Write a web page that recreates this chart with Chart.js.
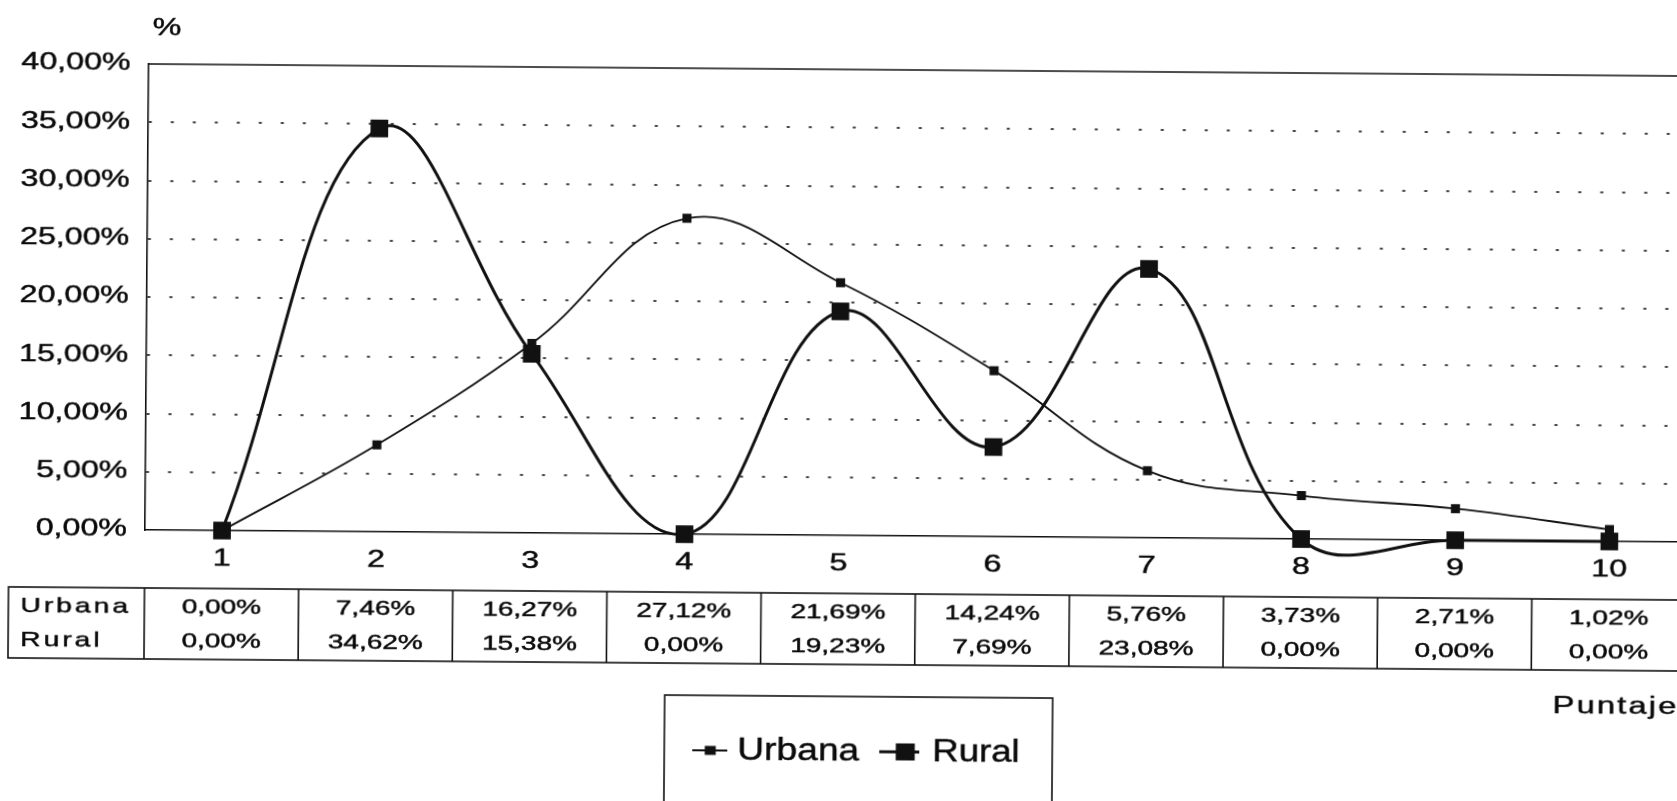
<!DOCTYPE html>
<html><head><meta charset="utf-8">
<script src="https://cdn.jsdelivr.net/npm/chart.js@4.4.0/dist/chart.umd.min.js"></script>
<style>
html,body{margin:0;padding:0;background:#fff;width:1677px;height:801px;overflow:hidden;}
#wrap{position:absolute;left:0;top:0;width:1700px;height:801px;transform:rotate(0.45deg);transform-origin:150px 400px;}
</style></head><body>
<div id="wrap"><canvas id="c" width="1700" height="801"></canvas></div>
<script>
const categories = ['1','2','3','4','5','6','7','8','9','10'];
const urbana = [0.00, 7.46, 16.27, 27.12, 21.69, 14.24, 5.76, 3.73, 2.71, 1.02];
const rural  = [0.00, 34.62, 15.38, 0.00, 19.23, 7.69, 23.08, 0.00, 0.00, 0.00];
const seriesNames = ['Urbana', 'Rural'];
const yTickValues = [0, 5, 10, 15, 20, 25, 30, 35, 40];
const yAxisTitle = '%';
const xAxisTitle = 'Puntaje';

function fmt(v) { return v.toFixed(2).replace('.', ',') + '%'; }

const FONT = '"Liberation Sans", Arial, sans-serif';
function wideText(ctx, text, x, y, align, size, sx, ls) {
  ctx.save();
  ctx.font = size + 'px ' + FONT;
  ctx.letterSpacing = (ls || 0) + 'px';
  ctx.textBaseline = 'middle';
  ctx.textAlign = 'left';
  ctx.fillStyle = '#0a0a0a';
  ctx.strokeStyle = '#0a0a0a';
  ctx.lineWidth = 0.45;
  const w = ctx.measureText(text).width * sx - (ls || 0) * sx;
  const left = align === 'center' ? x - w / 2 : (align === 'right' ? x - w : x);
  ctx.translate(left, y);
  ctx.scale(sx, 1);
  ctx.fillText(text, 0, 0);
  ctx.strokeText(text, 0, 0);
  ctx.restore();
}

const decor = {
  id: 'decor',
  afterDraw(chart) {
    const ctx = chart.ctx, xs = chart.scales.x, ys = chart.scales.y, ca = chart.chartArea;
    // top/right frame lines
    ctx.save();
    ctx.strokeStyle = '#111'; ctx.lineWidth = 1.6;
    ctx.beginPath(); ctx.moveTo(ca.left, ca.top); ctx.lineTo(ca.right, ca.top); ctx.stroke();
    ctx.beginPath(); ctx.moveTo(ca.right, ca.top); ctx.lineTo(ca.right, ca.bottom); ctx.stroke();
    ctx.restore();
    // y tick labels
    yTickValues.forEach(v => wideText(ctx, fmt(v), 128, ys.getPixelForValue(v), 'right', 23, 1.4, 0));
    // x tick labels
    categories.forEach((c, i) => wideText(ctx, c, xs.getPixelForValue(i), 559, 'center', 23, 1.4, 0));
    // axis titles
    wideText(ctx, yAxisTitle, 164, 29, 'center', 23, 1.4, 0);
    wideText(ctx, xAxisTitle, 1555, 696, 'left', 23, 1.42, 1.5);
    // data table
    const step = xs.getPixelForValue(1) - xs.getPixelForValue(0);
    const tTop = 588, tBot = 659, tLeft = 10;
    const rowY = [607, 641];
    ctx.save();
    ctx.strokeStyle = '#111'; ctx.lineWidth = 1.6;
    ctx.strokeRect(tLeft, tTop, (xs.getPixelForValue(categories.length - 1) + step / 2) - tLeft, tBot - tTop);
    for (let i = 0; i <= categories.length; i++) {
      const bx = xs.getPixelForValue(i) - step / 2;
      ctx.beginPath(); ctx.moveTo(bx, tTop); ctx.lineTo(bx, tBot); ctx.stroke();
    }
    ctx.restore();
    [urbana, rural].forEach((arr, r) => {
      wideText(ctx, seriesNames[r], 22, rowY[r], 'left', 21, 1.35, 2.2);
      arr.forEach((v, i) => wideText(ctx, fmt(v), xs.getPixelForValue(i), rowY[r], 'center', 20, 1.4, 0));
    });
    // legend
    ctx.save();
    ctx.strokeStyle = '#111'; ctx.lineWidth = 1.6;
    ctx.strokeRect(667, 691, 388, 140);
    ctx.restore();
    const ly = 746;
    const items = [
      {x0: 695, x1: 730, mx: 713, w: 11, h: 9, lw: 1.8, tx: 740, sx: 1.2, name: seriesNames[0]},
      {x0: 882, x1: 922, mx: 908, w: 19, h: 17, lw: 3, tx: 935, sx: 1.18, name: seriesNames[1]}
    ];
    items.forEach(it => {
      ctx.save();
      ctx.strokeStyle = '#111'; ctx.lineWidth = it.lw;
      ctx.beginPath(); ctx.moveTo(it.x0, ly); ctx.lineTo(it.x1, ly); ctx.stroke();
      ctx.fillStyle = '#111';
      ctx.fillRect(it.mx - it.w / 2, ly - it.h / 2, it.w, it.h);
      ctx.restore();
      wideText(ctx, it.name, it.tx, ly, 'left', 31, it.sx, 0);
    });
  }
};

new Chart(document.getElementById('c'), {
  type: 'line',
  data: {
    labels: categories,
    datasets: [
      { label: seriesNames[0], data: urbana, borderColor: '#111', backgroundColor: '#111',
        borderWidth: 1.8, pointStyle: 'rect', pointRadius: 6.4, pointBorderWidth: 0,
        pointBackgroundColor: '#111', tension: 0.4, clip: false },
      { label: seriesNames[1], data: rural, borderColor: '#111', backgroundColor: '#111',
        borderWidth: 3, pointStyle: 'rect', pointRadius: 12.5, pointBorderWidth: 0,
        pointBackgroundColor: '#111', tension: 0.4, clip: false }
    ]
  },
  options: {
    responsive: false, animation: false, devicePixelRatio: 1,
    layout: { padding: { left: 0, top: 64, right: 10, bottom: 0 } },
    elements: { line: { capBezierPoints: false } },
    plugins: { legend: { display: false }, tooltip: { enabled: false } },
    scales: {
      x: {
        offset: true,
        grid: { display: false, drawTicks: false },
        border: { display: true, color: '#111', width: 1.6 },
        ticks: { display: false },
        afterFit(s) { s.height = 801 - 530; }
      },
      y: {
        min: 0, max: 40,
        afterBuildTicks(s) { s.ticks = yTickValues.map(v => ({ value: v })); },
        grid: {
          drawTicks: false, lineWidth: 2,
          color: c => (c.tick && (c.tick.value === 0 || c.tick.value === 40)) ? 'rgba(0,0,0,0)' : '#444'
        },
        border: { display: true, color: '#111', width: 1.6, dash: [3, 19] },
        ticks: { display: false },
        afterFit(s) { s.width = 146; }
      }
    }
  },
  plugins: [decor]
});
</script>
</body></html>
